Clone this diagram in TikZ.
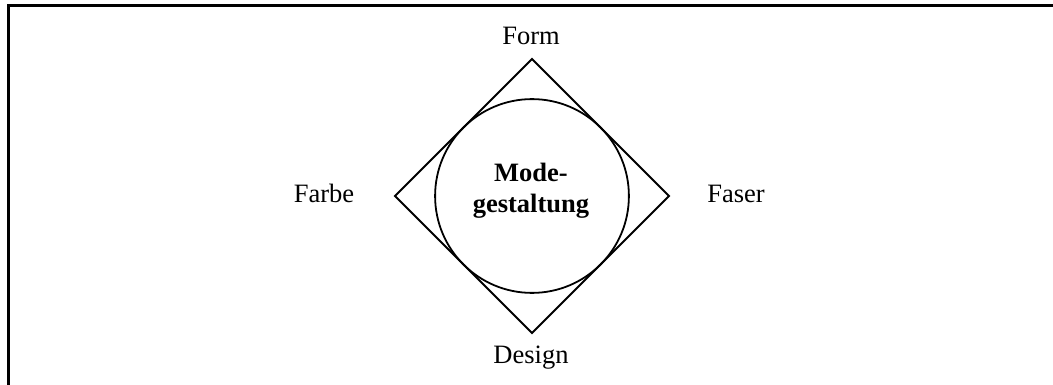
\documentclass[tikz,border=0pt]{standalone}
\usepackage{fontspec}
\setmainfont{Liberation Serif}
\begin{document}
\begin{tikzpicture}[x=1pt,y=-1pt,
  frameline/.style={line width=3pt},
  shapeline/.style={line width=1.8pt},
  lbl/.style={inner sep=0pt,anchor=base,font=\fontsize{26.5}{31}\selectfont}]
\useasboundingbox (0,0) rectangle (1053,385);
% open frame: top and left edges only
\draw[frameline] (8,385) -- (8,6) -- (1053,6);
% diamond with inscribed circle
\coordinate (c) at (532,196);
\coordinate (top) at (532,59);
\coordinate (right) at (669,196);
\coordinate (bottom) at (532,333);
\coordinate (left) at (395,196);
\draw[shapeline,line join=miter] (top) -- (right) -- (bottom) -- (left) -- cycle;
\draw[shapeline] (c) circle[radius=96.9];
% labels
\node[lbl] (form) at (531,45) {Form};
\node[lbl] (design) at (531,363) {Design};
\node[lbl] (farbe) at (324,203) {Farbe};
\node[lbl] (faser) at (736,203) {Faser};
\node[lbl,font=\fontsize{26.5}{31}\selectfont\bfseries] (mode) at (531,182) {Mode-};
\node[lbl,font=\fontsize{26.5}{31}\selectfont\bfseries] (gest) at (531,213) {gestaltung};
\end{tikzpicture}
\end{document}
